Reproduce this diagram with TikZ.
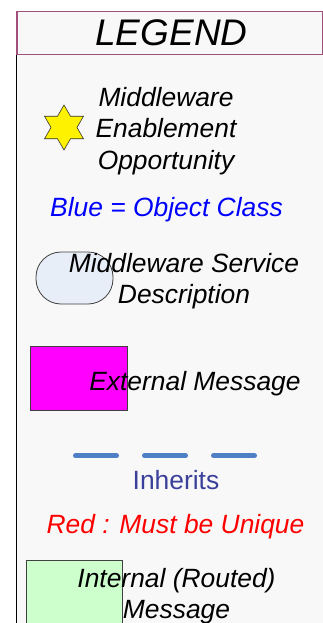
\documentclass[tikz,border=0pt]{standalone}
\usepackage{fontspec}
\setmainfont{Liberation Sans}
\begin{document}
\begin{tikzpicture}[x=1pt,y=-1pt,
  lbl/.style={inner sep=0pt,align=center,font=\fontsize{26.4}{31.5}\selectfont\itshape},
  shapebox/.style={draw=black!75,line width=0.8pt}]
\useasboundingbox (0,0) rectangle (323,623);
\definecolor{panel}{HTML}{F8F8F8}
\definecolor{titleborder}{HTML}{A0507A}
\definecolor{dashblue}{HTML}{4F7FC4}
\definecolor{inhcol}{HTML}{3B409A}
\definecolor{svcfill}{HTML}{E8EEF8}
\definecolor{greenfill}{HTML}{CCFFCC}
\definecolor{magfill}{HTML}{FF00FF}
% panel
\fill[panel] (16,11) rectangle (330,630);
\draw[black,line width=1pt] (16,54) -- (16,630);
\node[draw=titleborder,line width=1.5pt,fill=panel,minimum width=306pt,minimum height=43pt,inner sep=0pt,anchor=north west] (title) at (16,11) {};
\node[lbl,font=\fontsize{37}{40}\selectfont\itshape] (legend) at (171.5,32.5) {LEGEND};
% star
\fill[yellow,draw=black!80,line width=0.6pt,shift={(64,127.5)}]
  (90:22.5) -- (120:13) -- (150:22.5) -- (180:13) -- (210:22.5) -- (240:13)
  -- (270:22.5) -- (300:13) -- (330:22.5) -- (0:13) -- (30:22.5) -- (60:13) -- cycle;
\coordinate (star) at (64,127.5);
\node[lbl] (mw) at (166,131) {Middleware\\Enablement\\Opportunity};
\node[lbl,text=blue] (blue) at (166.5,210) {Blue = Object Class};
% service
\node[shapebox,fill=svcfill,rounded corners=25pt,minimum width=77pt,minimum height=52pt,inner sep=0pt] (svc) at (74.5,278) {};
\node[lbl] (svct) at (184,281) {Middleware Service\\Description};
% external
\node[shapebox,fill=magfill,minimum width=97pt,minimum height=64pt,inner sep=0pt] (ext) at (78.5,378) {};
\node[lbl] (extt) at (195,384) {External Message};
% inherits
\coordinate (d1) at (75.5,455.7);
\coordinate (d2) at (254.5,455.7);
\draw[dashblue,line width=5pt,line cap=round,dash pattern=on 41pt off 28pt] (d1) -- (d2);
\node[lbl,font=\fontsize{26.4}{31.5}\selectfont,text=inhcol] (inh) at (176,480) {Inherits};
\node[lbl,text=red] (red) at (175.5,527) {Red : Must be Unique};
% internal
\node[shapebox,fill=greenfill,minimum width=96pt,minimum height=80pt,inner sep=0pt,anchor=north west] (int) at (26,560) {};
\node[lbl] (intt) at (176.5,596) {Internal (Routed)\\Message};
\end{tikzpicture}
\end{document}
